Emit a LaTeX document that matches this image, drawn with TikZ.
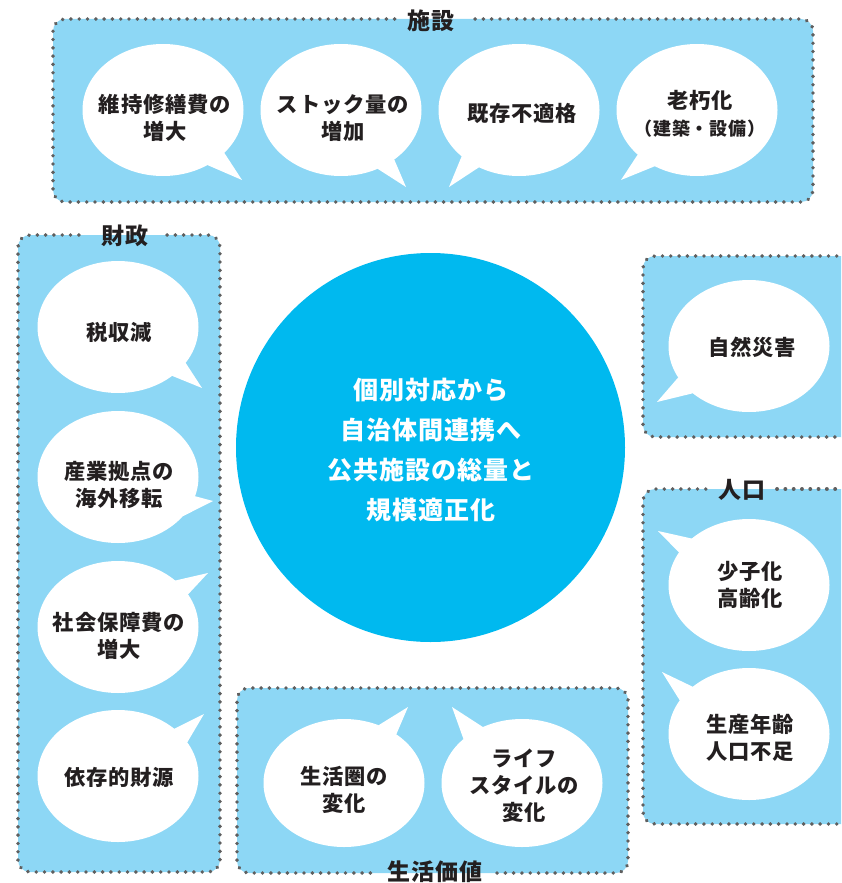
\documentclass[tikz,border=0pt]{standalone}
\usepackage{fontspec}
\newfontfamily\jp{Noto Sans CJK JP}[LetterSpace=4]
\usetikzlibrary{shapes.geometric}
\definecolor{boxblue}{HTML}{8DD7F5}
\definecolor{coreblue}{HTML}{00B9EF}
\definecolor{dotgray}{HTML}{5F5F5F}
\definecolor{ink}{HTML}{231F20}
\tikzset{
  grp/.style={fill=boxblue, rounded corners=12pt},
  dots/.style={draw=dotgray, line width=3.8pt, line cap=round, dash pattern=on 0.1pt off 8.2pt, rounded corners=12pt},
  bubble/.style={ellipse, fill=white, minimum width=161pt, minimum height=132pt, inner sep=0pt},
  btext/.style={align=center, font=\jp\bfseries\fontsize{21.3}{27}\selectfont, text=ink, inner sep=0pt},
  grptitle/.style={font=\jp\bfseries\fontsize{23}{23}\selectfont, text=ink, inner sep=0pt},
  tail/.style={fill=white},
}
\begin{document}
\begin{tikzpicture}[x=1pt, y=-1pt]
\useasboundingbox (0,0) rectangle (841,883);
\clip (0,0) rectangle (841,883);

% ---------- group boxes ----------
% 施設
\fill[grp] (53,19) rectangle (813,202);
\draw[dots] (475,19) -- (813,19) -- (813,202) -- (53,202) -- (53,19) -- (398,19);
\node[grptitle] (gfac) at (431,21) {施設};
% 財政
\fill[grp] (18,235) rectangle (220,872);
\draw[dots] (167,235) -- (220,235) -- (220,872) -- (18,872) -- (18,235) -- (87,235);
\node[grptitle] (gfin) at (125,236) {財政};
% 自然災害
\fill[grp] (643,256) rectangle (870,437);
\draw[dots] (870,256) -- (643,256) -- (643,437) -- (870,437);
% 人口
\fill[grp] (643,489) rectangle (870,824);
\draw[dots] (777,489) -- (870,489);
\draw[dots] (870,824) -- (643,824) -- (643,489) -- (708,489);
\node[grptitle] (gpop) at (742,490) {人口};
% 生活価値
\fill[grp] (237,688) rectangle (628,873);
\draw[dots] (497,873) -- (628,873) -- (628,688) -- (237,688) -- (237,873) -- (378,873);
\node[grptitle] (gval) at (435,872) {生活価値};

% ---------- central circle ----------
\node[circle, fill=coreblue, minimum size=389pt, inner sep=0pt] (core) at (430.5,447.5) {};
\node[align=center, text=white, inner sep=0pt, font=\jp\bfseries\fontsize{25}{39.7}\selectfont] (coretext) at (431,450)
  {個別対応から\\自治体間連携へ\\公共施設の総量と\\規模適正化};

% ---------- 施設 bubbles ----------
\node[bubble] (t1) at (163,110) {};
\fill[tail] (t1.center) -- (t1.-35) -- (242,180) -- (t1.-51) -- cycle;
\node[btext] (t1x) at (165,118) {維持修繕費の\\増大};

\node[bubble] (t2) at (341,110) {};
\fill[tail] (t2.center) -- (t2.-43) -- (406,187) -- (t2.-58) -- cycle;
\node[btext] (t2x) at (343,118) {ストック量の\\増加};

\node[bubble] (t3) at (519,110) {};
\fill[tail] (t3.center) -- (t3.-141) -- (449,187) -- (t3.-125) -- cycle;
\node[btext] (t3x) at (522,113) {既存不適格};

\node[bubble] (t4) at (697,110) {};
\fill[tail] (t4.center) -- (t4.-143) -- (621,180) -- (t4.-127) -- cycle;
\node[btext] (t4x) at (700,114) {老朽化\\{\fontsize{18}{22}\selectfont （建築・設備）}};

% ---------- 財政 bubbles ----------
\node[bubble] (l1) at (118,327) {};
\fill[tail] (l1.center) -- (l1.-28) -- (202,388) -- (l1.-42) -- cycle;
\node[btext] (l1x) at (119,332) {税収減};

\node[bubble] (l2) at (118,477) {};
\fill[tail] (l2.center) -- (l2.-14) -- (213,501) -- (l2.-31) -- cycle;
\node[btext] (l2x) at (119,485) {産業拠点の\\海外移転};

\node[bubble] (l3) at (118,627) {};
\fill[tail] (l3.center) -- (l3.39) -- (208,573) -- (l3.25) -- cycle;
\node[btext] (l3x) at (119,636) {社会保障費の\\増大};

\node[bubble] (l4) at (118,776) {};
\fill[tail] (l4.center) -- (l4.40) -- (204,714) -- (l4.26) -- cycle;
\node[btext] (l4x) at (119,777) {依存的財源};

% ---------- right bubbles ----------
\node[bubble] (r1) at (749,346) {};
\fill[tail] (r1.center) -- (r1.-156) -- (657,402) -- (r1.-140) -- cycle;
\node[btext] (r1x) at (752,347) {自然災害};

\node[bubble] (r2) at (749,585) {};
\fill[tail] (r2.center) -- (r2.141) -- (658,531) -- (r2.155) -- cycle;
\node[btext] (r2x) at (750,585) {少子化\\高齢化};

\node[bubble] (r3) at (749,734) {};
\fill[tail] (r3.center) -- (r3.140) -- (662,672) -- (r3.154) -- cycle;
\node[btext] (r3x) at (750,738) {生産年齢\\人口不足};

% ---------- 生活価値 bubbles ----------
\node[bubble, minimum height=128pt] (b1) at (344,783) {};
\fill[tail] (b1.center) -- (b1.59) -- (408,707) -- (b1.43) -- cycle;
\node[btext] (b1x) at (344,790) {生活圏の\\変化};

\node[bubble, minimum height=128pt] (b2) at (522,783) {};
\fill[tail] (b2.center) -- (b2.143) -- (452,707) -- (b2.125) -- cycle;
\node[btext] (b2x) at (524,786) {ライフ\\スタイルの\\変化};
\end{tikzpicture}
\end{document}
